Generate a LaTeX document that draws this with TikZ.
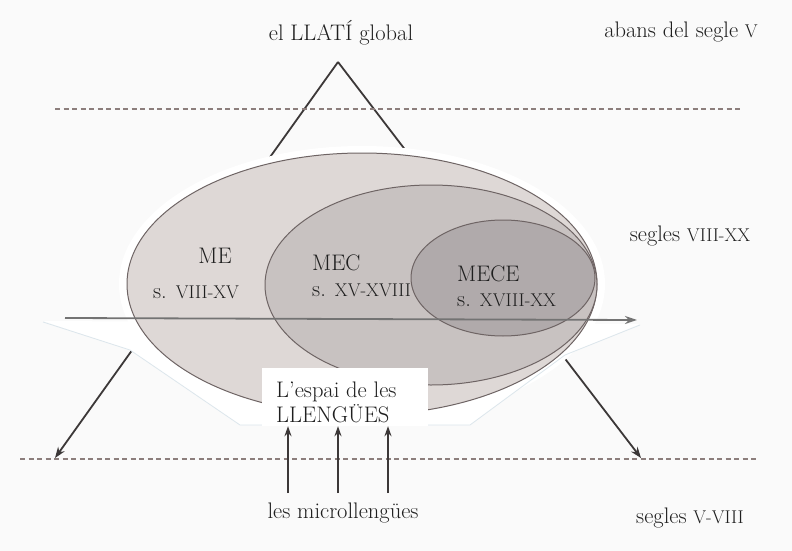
\documentclass[tikz,border=0pt]{standalone}
\usepackage{fontspec}
\usetikzlibrary{arrows.meta}
\definecolor{bgc}{HTML}{FAFAFA}
\definecolor{linec}{HTML}{3C3838}
\definecolor{dashc}{HTML}{8C7E7C}
\definecolor{ellc}{HTML}{6E6464}
\definecolor{fillA}{HTML}{DED8D6}
\definecolor{fillB}{HTML}{C8C2C1}
\definecolor{fillC}{HTML}{B0AAAB}
\definecolor{blobc}{HTML}{DCE6EC}
\newcommand\lblfont{\fontsize{22.5}{25}\selectfont}
\newcommand\rn[1]{{\fontsize{18.5}{20}\selectfont #1}}
\begin{document}
\begin{tikzpicture}[x=1pt,y=-1pt,
  every node/.style={font=\lblfont, text=black!88, inner sep=0pt},
  triline/.style={draw=linec, line width=1.8pt, -{Stealth[length=11pt,width=8pt]}},
  dashline/.style={draw=dashc, line width=1.6pt, dash pattern=on 5pt off 3.5pt},
  ell/.style={draw=ellc, line width=1pt},
  uparrow/.style={draw=linec, line width=1.8pt, -{Stealth[length=10pt,width=7pt]}},
  timearrow/.style={draw=black!55, line width=1.8pt, -{Stealth[length=12pt,width=8pt]}}]
\useasboundingbox[fill=bgc] (0,0) rectangle (792,551);
% triangle sides
\coordinate (apex) at (338,62);
\coordinate (bl) at (55,458);
\coordinate (br) at (641,458);
\draw[triline] (apex) -- (bl);
\draw[triline] (apex) -- (br);
% white blob hiding the middle of the triangle
\fill[white] (362,284) ellipse [x radius=243, y radius=138];
\fill[white] (43,321) -- (130,350) -- (240,425) -- (470,425) -- (565,355) -- (640,324) -- cycle;
\draw[blobc, line width=0.8pt] (43,322) -- (130,350) -- (240,425) -- (470,425) -- (565,355) -- (640,325);
% dashed lines
\coordinate (d1a) at (55,109);
\coordinate (d1b) at (740,109);
\coordinate (d2a) at (20,459);
\coordinate (d2b) at (757,459);
\draw[dashline] (d1a) -- (d1b);
\draw[dashline] (d2a) -- (d2b);
% ellipses
\draw[ell, fill=fillA] (362,284) ellipse [x radius=235, y radius=131];
\draw[ell, fill=fillB] (431,285) ellipse [x radius=166, y radius=100];
\draw[ell, fill=fillC] (503,278) ellipse [x radius=92, y radius=58];
% time arrow
\coordinate (ha1) at (65,318);
\coordinate (ha2) at (637,320);
\draw[timearrow] (ha1) -- (ha2);
% labels
\node (title) at (341,33) {el LLATÍ global};
\node (before) at (681,32) {abans del segle \rn{V}};
\node (mid) at (690,236) {segles \rn{VIII-XX}};
\node (after) at (690,518) {segles \rn{V-VIII}};
\node (me) at (215,256) {ME};
\node (mes) at (196,292) {s. \rn{VIII-XV}};
\node[anchor=west] (mec) at (312,263) {MEC};
\node[anchor=west] (mecs) at (312,290) {s. \rn{XV-XVIII}};
\node[anchor=west] (mece) at (457,274) {MECE};
\node[anchor=west] (meces) at (457,300) {s. \rn{XVIII-XX}};
\node[fill=white, minimum width=166pt, minimum height=58pt] (boxbg) at (345,397) {};
\node[anchor=west, align=left] (box) at (276,402) {L'espai de les\\LLENGÜES};
\node (micro) at (343,513) {les microllengües};
% up arrows
\coordinate (u1) at (288,493);
\coordinate (u2) at (338,493);
\coordinate (u3) at (388,493);
\draw[uparrow] (u1) -- (u1 |- boxbg.south);
\draw[uparrow] (u2) -- (u2 |- boxbg.south);
\draw[uparrow] (u3) -- (u3 |- boxbg.south);
\end{tikzpicture}
\end{document}
